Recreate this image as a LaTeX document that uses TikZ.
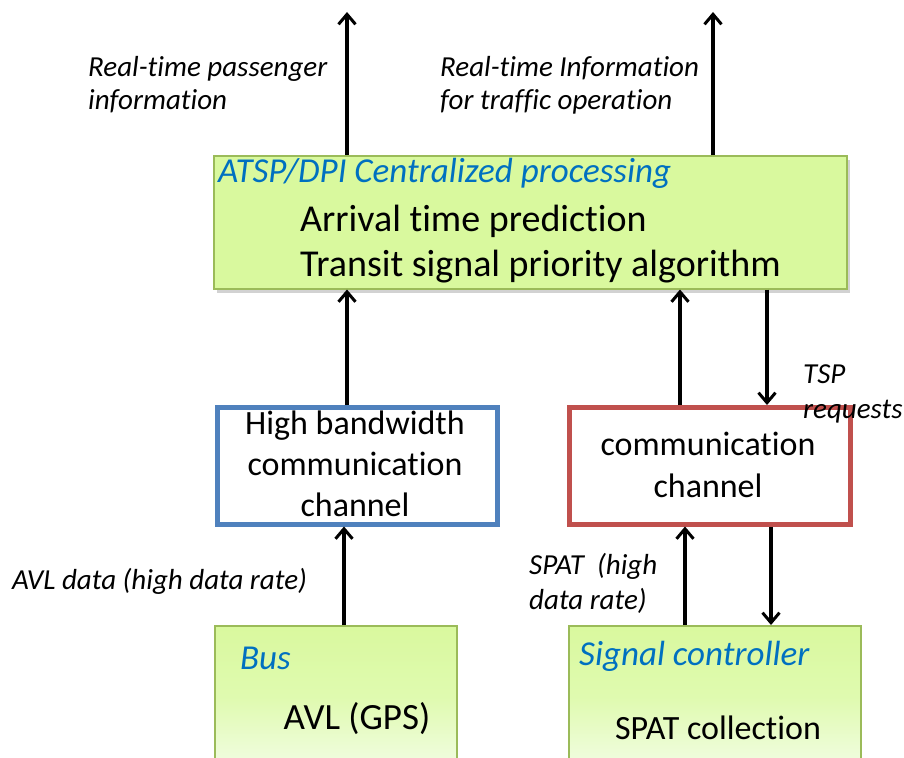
\documentclass[tikz,border=0pt]{standalone}
\usepackage{fontspec}
\setmainfont{Carlito}[Ligatures=NoCommon]
\usetikzlibrary{arrows.meta,shadows}
\definecolor{boxgreen}{HTML}{D9F99E}
\definecolor{boxgreenlight}{HTML}{F2FDE4}
\definecolor{greenedge}{HTML}{9BBB59}
\definecolor{headblue}{HTML}{0070C0}
\definecolor{chanblue}{HTML}{4F81BD}
\definecolor{chanred}{HTML}{C0504D}
\tikzset{
  flow/.style={line width=3.2pt,-{Straight Barb[length=10pt,width=17pt,line width=3pt]}},
  greenbox/.style={draw=greenedge,line width=1.5pt,fill=boxgreen},
  chanbox/.style={line width=4.5pt,fill=white,minimum height=117pt,anchor=north west,inner sep=0pt},
  lbl/.style={font=\fontsize{29}{34}\selectfont\itshape,inner sep=0pt,anchor=base west},
  head/.style={font=\fontsize{35}{40}\selectfont\itshape,text=headblue,inner sep=0pt,anchor=base west},
  body/.style={font=\fontsize{34}{41}\selectfont,inner sep=0pt,anchor=base},
}
\begin{document}
\begin{tikzpicture}[x=1pt,y=-1pt]
\clip (0,0) rectangle (904,757);
\fill[white] (0,0) rectangle (904,757);
% columns
\coordinate (c1) at (347,0);
\coordinate (c2) at (713,0);
\coordinate (c3) at (344,0);
\coordinate (c4) at (680,0);
\coordinate (c5) at (767,0);
\coordinate (c6) at (685,0);
\coordinate (c7) at (771,0);
% central box
\node[greenbox,drop shadow={shadow xshift=3pt,shadow yshift=-4pt,opacity=0.35},minimum width=633pt,minimum height=133pt,anchor=north west,inner sep=0pt] (ctr) at (213,155) {};
\node[head] (ctrh) at (218,182) {ATSP/DPI Centralized processing};
\node[font=\fontsize{38}{44}\selectfont,inner sep=0pt,anchor=base west] (ctr1) at (300,231) {Arrival time prediction};
\node[font=\fontsize{38}{44}\selectfont,inner sep=0pt,anchor=base west] (ctr2) at (300,276) {Transit signal priority algorithm};
% channels
\node[chanbox,draw=chanblue,minimum width=280pt] (hb) at (215,405) {};
\node[body] (hb1) at (355,434) {High bandwidth};
\node[body] (hb2) at (355,475) {communication};
\node[body] (hb3) at (355,516) {channel};
\node[chanbox,draw=chanred,minimum width=281pt] (cc) at (567,405) {};
\node[body] (cc1) at (708,455) {communication};
\node[body] (cc2) at (708,497) {channel};
% bottom boxes
\path[top color=boxgreen,bottom color=boxgreenlight,middle color=boxgreen!75!boxgreenlight] (214,625) rectangle (456,770);
\node[draw=greenedge,line width=1.5pt,minimum width=242pt,minimum height=145pt,anchor=north west,inner sep=0pt] (bus) at (214,625) {};
\path[top color=boxgreen,bottom color=boxgreenlight,middle color=boxgreen!75!boxgreenlight] (568,625) rectangle (860,770);
\node[draw=greenedge,line width=1.5pt,minimum width=292pt,minimum height=145pt,anchor=north west,inner sep=0pt] (sig) at (568,625) {};
\node[head] (bush) at (240,669) {Bus};
\node[font=\fontsize{37}{44}\selectfont,inner sep=0pt,anchor=base] (bust) at (357,729) {AVL (GPS)};
\node[head] (sigh) at (579,665) {Signal controller};
\node[body] (sigt) at (718,739) {SPAT collection};
% outputs
\coordinate (o1) at (347,12);
\coordinate (o2) at (713,12);
\draw[flow] (ctr.north -| c1) -- (o1);
\draw[flow] (ctr.north -| c2) -- (o2);
\node[lbl] (l1a) at (88,77) {Real-time passenger};
\node[lbl] (l1b) at (88,110) {information};
\node[lbl] (l2a) at (440,77) {Real-time Information};
\node[lbl] (l2b) at (440,110) {for traffic operation};
% connectors
\draw[flow] (hb.north -| c1) -- (ctr.south -| c1);
\draw[flow] (bus.north -| c3) -- (hb.south -| c3);
\draw[flow] (cc.north -| c4) -- (ctr.south -| c4);
\draw[flow] (ctr.south -| c5) -- (cc.north -| c5);
\draw[flow] (sig.north -| c6) -- (cc.south -| c6);
\draw[flow] (cc.south -| c7) -- (sig.north -| c7);
\node[lbl] (l3) at (12,589) {AVL data (high data rate)};
\node[lbl] (l4a) at (529,574) {SPAT\ \ (high};
\node[lbl] (l4b) at (529,609) {data rate)};
\node[lbl] (l5a) at (803,383) {TSP};
\node[lbl] (l5b) at (803,418) {requests};
\end{tikzpicture}
\end{document}
